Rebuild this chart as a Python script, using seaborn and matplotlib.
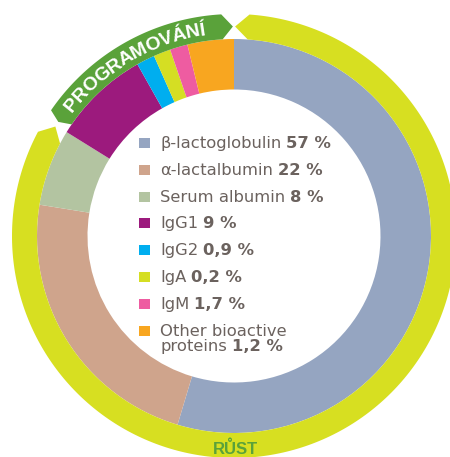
import matplotlib
matplotlib.use("Agg")

import numpy as np
import matplotlib.pyplot as plt
import seaborn as sns
from matplotlib.patches import Polygon, Rectangle
from matplotlib.font_manager import FontProperties
from matplotlib.textpath import TextToPath

# legend content
PROTEINS = ["β-lactoglobulin", "α-lactalbumin", "Serum albumin", "IgG1", "IgG2",
            "IgA", "IgM", "Other bioactive\nproteins"]
SHARE_TEXT = ["57 %", "22 %", "8 %", "9 %", "0,9 %", "0,2 %", "1,7 %", "1,2 %"]
# wedge sizes as drawn in the picture (%), clockwise from 12 o'clock
WEDGE_SHARES = [54.6, 22.9, 6.3, 8.0, 1.5, 1.4, 1.45, 3.8]
WEDGE_COLORS = ["#95A5C1", "#CFA48C", "#B3C4A1", "#9C1A7D", "#00AEEF",
                "#D5DE23", "#EE5CA1", "#F8A620"]
RING_LABELS = ["PROGRAMOVÁNÍ", "RŮST"]

YELLOW = "#D7DF21"
GREEN = "#5AA23A"
TEXT_COLOR = "#6B625E"

sns.set_style("white")
plt.rcParams["font.family"] = ["DejaVu Sans"]

W, H = 450, 457
CX, CY = 234, H - 236
R_OUT, R_IN = 197, 146.5
RING_OUT = 222

fig = plt.figure(figsize=(4.5, 4.57), dpi=100)
ax = fig.add_axes([0, 0, 1, 1])

ax.pie(WEDGE_SHARES, colors=sns.color_palette(WEDGE_COLORS), startangle=90,
       counterclock=False, center=(CX, CY), radius=R_OUT,
       wedgeprops=dict(width=R_OUT - R_IN, linewidth=0))
ax.set_xlim(0, W)
ax.set_ylim(0, H)
ax.set_aspect("equal")
ax.axis("off")


def polar(r, deg):
    t = np.radians(deg)
    return CX + r * np.cos(t), CY + r * np.sin(t)


def band_arrow(a0, a1, tail_tip, head_tip, color):
    # ring segment from a0 to a1 (degrees) with pointed ends
    ang = np.linspace(a0, a1, 300)
    rm = (R_OUT + RING_OUT) / 2
    outer = np.column_stack(polar(RING_OUT, ang))
    inner = np.column_stack(polar(R_OUT, ang[::-1]))
    head = np.array([polar(rm, head_tip)])
    tail = np.array([polar(rm, tail_tip)])
    pts = np.vstack([outer, head, inner, tail])
    ax.add_patch(Polygon(pts, closed=True, facecolor=color, edgecolor="none"))


band_arrow(86, -208, 89.7, -211.5, YELLOW)
band_arrow(145.5, 93.3, 147, 90.3, GREEN)

# curved label on the green arrow
fp = FontProperties(family="Liberation Sans", weight="bold", size=14)
ttp = TextToPath()


def advance(s):
    if not s:
        return 0.0
    return ttp.get_text_width_height_descent(s, fp, ismath=False)[0] * 100 / 72


text = RING_LABELS[0]
total = advance(text)
theta_c = 120.4
r_space, r_base = 209, 203
for i, ch in enumerate(text):
    s = (advance(text[:i]) + advance(text[:i + 1])) / 2
    th = theta_c + np.degrees((total / 2 - s) / r_space)
    x, y = polar(r_base, th)
    ax.text(x, y, ch, rotation=th - 90, rotation_mode="anchor", ha="center",
            va="baseline", fontproperties=fp, color="white")

ax.text(235, 2.5, RING_LABELS[1], ha="center", va="baseline", color=GREEN,
        fontproperties=FontProperties(family="Liberation Sans", weight="bold", size=12))

# legend
fig.canvas.draw()
renderer = fig.canvas.get_renderer()
base0, pitch, line_gap = H - 148, 26.8, 15.8
for i, (name, share) in enumerate(zip(PROTEINS, SHARE_TEXT)):
    base = base0 - i * pitch
    ax.add_patch(Rectangle((139, base), 11, 10, facecolor=WEDGE_COLORS[i], edgecolor="none"))
    last = None
    for j, line in enumerate(name.split("\n")):
        last = ax.text(160, base - j * line_gap, line, ha="left", va="baseline",
                       fontsize=11.8, color=TEXT_COLOR)
    bb = last.get_window_extent(renderer)
    x_end = ax.transData.inverted().transform((bb.x1, bb.y0))[0]
    ax.text(x_end + 5, base - (len(name.split("\n")) - 1) * line_gap, share,
            ha="left", va="baseline", fontsize=11.8, fontweight="bold", color=TEXT_COLOR)

fig.savefig("out.png", dpi=100)
